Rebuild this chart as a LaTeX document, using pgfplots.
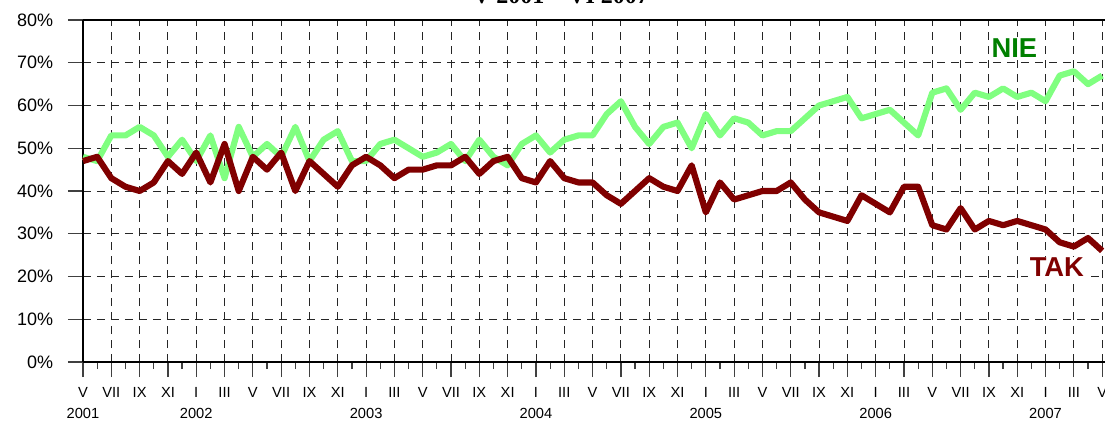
\documentclass[border=0pt]{standalone}
\usepackage{pgfplots}
\pgfplotsset{compat=1.18}
\usepackage{fontspec}
\setmainfont{Liberation Sans}
\newfontfamily\titlefont{Liberation Serif}
\definecolor{niel}{RGB}{128,255,128}
\definecolor{niet}{RGB}{0,128,0}
\definecolor{takl}{RGB}{128,0,0}
\begin{document}
\begin{tikzpicture}
\begin{axis}[
  at={(0,0)}, anchor=south west,
  scale only axis,
  width=766.5pt, height=256.5pt,
  xmin=0, xmax=72.2, ymin=0, ymax=80,
  axis x line=box, axis y line=left,
  x axis line style={-, line width=1.3pt},
  y axis line style={-, line width=1.3pt},
  xtick={0,2,...,72},
  minor xtick={1,3,...,71},
  xtick pos=bottom, ytick pos=left,
  tick align=outside,
  major tick length=11.25pt,
  minor tick length=5.25pt,
  every tick/.style={black!75, line width=0.9pt},
  xticklabels={{V\\2001},VII,IX,XI,{I\\2002},III,V,VII,IX,XI,{I\\2003},III,V,VII,IX,XI,{I\\2004},III,V,VII,IX,XI,{I\\2005},III,V,VII,IX,XI,{I\\2006},III,V,VII,IX,XI,{I\\2007},III,V},
  xticklabel style={align=center, font=\fontsize{11}{16}\selectfont, anchor=north, inner sep=0pt, yshift=-7.5pt},
  ytick={0,10,...,80},
  yticklabels={0\%,10\%,20\%,30\%,40\%,50\%,60\%,70\%,80\%},
  yticklabel style={font=\fontsize{13.5}{15}\selectfont, anchor=east, inner sep=0pt, xshift=-11pt},
  grid=major,
  major grid style={black!85, line width=0.7pt, dash pattern=on 6pt off 4.5pt},
  clip=false,
]
\addplot[color=niel, line width=4.6pt, line join=round] coordinates {
(0,48)(1,47)(2,53)(3,53)(4,55)(5,53)(6,48)(7,52)(8,47)(9,53)
(10,43)(11,55)(12,48)(13,51)(14,48)(15,55)(16,47)(17,52)(18,54)(19,47)
(20,47)(21,51)(22,52)(23,50)(24,48)(25,49)(26,51)(27,47)(28,52)(29,48)
(30,46)(31,51)(32,53)(33,49)(34,52)(35,53)(36,53)(37,58)(38,61)(39,55)
(40,51)(41,55)(42,56)(43,50)(44,58)(45,53)(46,57)(47,56)(48,53)(49,54)
(50,54)(51,57)(52,60)(53,61)(54,62)(55,57)(56,58)(57,59)(58,56)(59,53)
(60,63)(61,64)(62,59)(63,63)(64,62)(65,64)(66,62)(67,63)(68,61)(69,67)
(70,68)(71,65)(72,67)
};
\addplot[color=takl, line width=4.6pt, line join=round] coordinates {
(0,47)(1,48)(2,43)(3,41)(4,40)(5,42)(6,47)(7,44)(8,49)(9,42)
(10,51)(11,40)(12,48)(13,45)(14,49)(15,40)(16,47)(17,44)(18,41)(19,46)
(20,48)(21,46)(22,43)(23,45)(24,45)(25,46)(26,46)(27,48)(28,44)(29,47)
(30,48)(31,43)(32,42)(33,47)(34,43)(35,42)(36,42)(37,39)(38,37)(39,40)
(40,43)(41,41)(42,40)(43,46)(44,35)(45,42)(46,38)(47,39)(48,40)(49,40)
(50,42)(51,38)(52,35)(53,34)(54,33)(55,39)(56,37)(57,35)(58,41)(59,41)
(60,32)(61,31)(62,36)(63,31)(64,33)(65,32)(66,33)(67,32)(68,31)(69,28)
(70,27)(71,29)(72,26)
};
\node[font=\fontsize{20.5}{22}\selectfont\bfseries, text=niet, fill=white, inner sep=1pt] at (axis cs:65.8,73.4) {NIE};
\node[font=\fontsize{20.5}{22}\selectfont\bfseries, text=takl, fill=white, inner sep=1pt] at (axis cs:68.8,22.1) {TAK};
\end{axis}
\node[font=\titlefont\fontsize{18}{20}\selectfont\bfseries, anchor=base] at (358.5pt,268.5pt) {V 2001 – VI 2007};
\pgfresetboundingbox
\path (-62.25pt,-45pt) rectangle (766.5pt,271.5pt);
\end{tikzpicture}
\end{document}
